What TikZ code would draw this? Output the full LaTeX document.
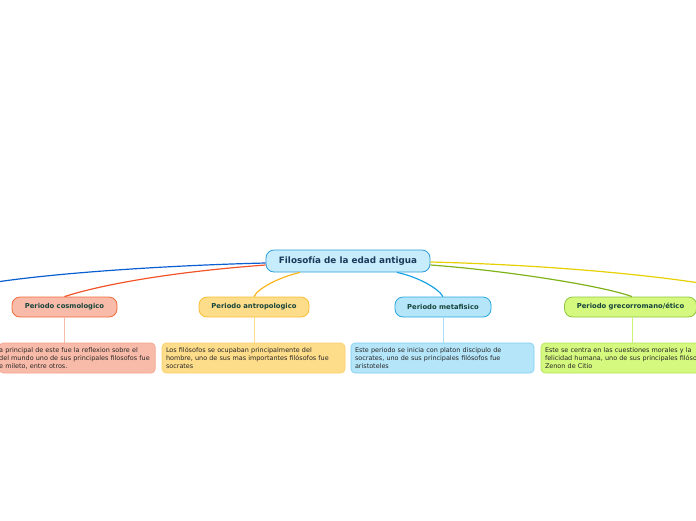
\documentclass[tikz,border=0pt]{standalone}
\usepackage{fontspec}
\setmainfont{DejaVu Sans}
\usetikzlibrary{calc}

\definecolor{rootfill}{HTML}{C7ECFB}
\definecolor{rootline}{HTML}{2B9ED8}
\definecolor{roottext}{HTML}{1B3A5B}
\definecolor{pertext}{HTML}{17453C}
\definecolor{cosfill}{HTML}{F9BBA9}
\definecolor{cosline}{HTML}{F26B3A}
\definecolor{cosdesc}{HTML}{F5A38A}
\definecolor{antfill}{HTML}{FDDC8A}
\definecolor{antline}{HTML}{F8BE36}
\definecolor{antdesc}{HTML}{FCD06C}
\definecolor{metfill}{HTML}{B4E5F9}
\definecolor{metline}{HTML}{29A8E0}
\definecolor{metdesc}{HTML}{7DCDEF}
\definecolor{grefill}{HTML}{D5F87E}
\definecolor{greline}{HTML}{8EC63F}
\definecolor{gredesc}{HTML}{B5E45A}
\definecolor{linkblue}{HTML}{0A5FD0}
\definecolor{linkorange}{HTML}{F2542A}
\definecolor{linkamber}{HTML}{F9B51D}
\definecolor{linksky}{HTML}{1BA3E3}
\definecolor{linkgreen}{HTML}{80B31A}
\definecolor{linkyellow}{HTML}{E6D000}

\begin{document}
\begin{tikzpicture}[x=1pt,y=-1pt,
  rootbox/.style={draw=rootline, fill=rootfill, line width=0.8pt, rounded corners=8pt,
    minimum width=164pt, minimum height=22pt, inner sep=0pt,
    font=\fontsize{8.8}{10}\selectfont\bfseries, text=roottext},
  perbox/.style={line width=0.8pt, rounded corners=8pt, minimum height=20pt, inner sep=0pt,
    font=\fontsize{6.8}{8}\selectfont\bfseries, text=pertext},
  descbox/.style={line width=0.6pt, rounded corners=4pt, minimum width=183pt, minimum height=30pt,
    inner xsep=4pt, inner ysep=0pt, align=left, text width=175pt,
    font=\fontsize{6.45}{8}\selectfont, text=black!85},
  link/.style={line width=1.2pt},
  stem/.style={line width=0.9pt}]
\useasboundingbox (0,0) rectangle (696,520);
\clip (0,0) rectangle (696,520);

% main topic
\node[rootbox] (root) at (348,261) {Filosofía de la edad antigua};

% periods
\node[perbox, draw=cosline, fill=cosfill, minimum width=105pt] (cosmo) at (64.5,307) {Periodo cosmologico};
\node[perbox, draw=antline, fill=antfill, minimum width=110pt] (antro) at (254,307) {Periodo antropologico};
\node[perbox, draw=metline, fill=metfill, minimum width=96pt] (meta) at (443,307) {Periodo metafisico};
\node[perbox, draw=greline, fill=grefill, minimum width=132pt] (greco) at (630.5,307) {Periodo grecorromano/ético};

% descriptions
\node[descbox, draw=cosdesc, fill=cosfill, anchor=east, inner xsep=0pt, minimum width=156pt, text width=156pt] (dcosmo) at (155.5,358)
  {a principal de este fue la reflexion sobre el\\del mundo uno de sus principales filosofos fue\\e mileto, entre otros.};
\node[descbox, draw=antdesc, fill=antfill] (dantro) at (253.5,358)
  {Los filósofos se ocupaban principalmente del\\hombre, uno de sus mas importantes filósofos fue\\socrates};
\node[descbox, draw=metdesc, fill=metfill] (dmeta) at (442.5,358)
  {Este periodo se inicia con platon discipulo de\\socrates, uno de sus principales filósofos fue\\aristoteles};
\node[descbox, draw=gredesc, fill=grefill] (dgreco) at (632.5,358)
  {Este se centra en las cuestiones morales y la\\felicidad humana, uno de sus principales filóso\\Zenon de Citio};

% free ends off the page
\coordinate (lend) at (-10,283);
\coordinate (rend) at (706,284);

% links from the main topic
\draw[link, linkblue] ([yshift=-2pt]root.west) .. controls (180,265) and (60,272) .. (lend);
\draw[link, linkorange] ([yshift=-4pt]root.west) .. controls (170,272) and (100,285) .. (cosmo.north);
\draw[link, linkamber] ([xshift=-48pt]root.south) .. controls (280,277) and (258,288) .. (antro.north);
\draw[link, linksky] ([xshift=49pt]root.south) .. controls (418,277) and (438,288) .. (meta.north);
\draw[link, linkgreen] ([yshift=-4pt]root.east) .. controls (500,270) and (600,285) .. ([xshift=1.5pt]greco.north);
\draw[link, linkyellow] ([yshift=-1pt]root.east) .. controls (550,265) and (650,275) .. (rend);

% stems to the descriptions
\draw[stem, cosfill] (cosmo.south) -- (cosmo.south |- dcosmo.north);
\draw[stem, antfill] (antro.south) -- (antro.south |- dantro.north);
\draw[stem, metfill!80!metdesc] (meta.south) -- (meta.south |- dmeta.north);
\draw[stem, grefill!70!gredesc] ([xshift=1.5pt]greco.south) -- ([xshift=1.5pt]greco.south |- dgreco.north);
\end{tikzpicture}
\end{document}
